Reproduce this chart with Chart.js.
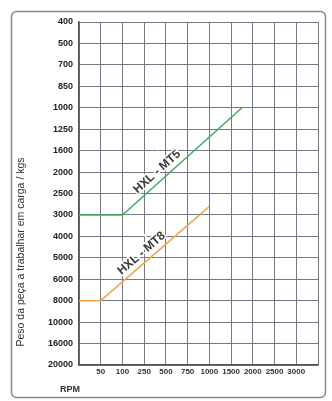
<!DOCTYPE html>
<html>
<head>
<meta charset="utf-8">
<script src="https://cdn.jsdelivr.net/npm/chart.js@4/dist/chart.umd.min.js"></script>
<style>
  html, body { margin: 0; padding: 0; background: #fff; }
  canvas { display: block; }
</style>
</head>
<body>
<canvas id="loadChart" width="332" height="401"></canvas>
<script>
// axis ticks
const rpmTicks = [0, 50, 100, 250, 500, 750, 1000, 1500, 2000, 2500, 3000];
const kgTicks = [400, 500, 700, 850, 1000, 1250, 1600, 2000, 2500, 3000, 4000, 5000, 6000, 8000, 10000, 16000, 20000];

// series
const mt5Rpm = [0, 100, 1750];
const mt5Kg = [3000, 3000, 1000];
const mt8Rpm = [0, 50, 1000];
const mt8Kg = [8000, 8000, 2800];

// the chart's axes are evenly spaced steps, not linear values:
// turn a value into its step position by interpolating between ticks
function stepPos(ticks, v) {
    for (let i = 0; i < ticks.length - 1; i++) {
        const a = ticks[i], b = ticks[i + 1];
        if (v >= a && v <= b) return i + (v - a) / (b - a);
    }
    return ticks.length - 1;
}

function toPoints(rpm, kg) {
    return rpm.map((r, i) => ({ x: stepPos(rpmTicks, r), y: stepPos(kgTicks, kg[i]) }));
}

const lineLabels = {
    id: 'lineLabels',
    beforeDraw(chart) {
        const ctx = chart.ctx;
        ctx.save();
        ctx.strokeStyle = '#8a8a8a';
        ctx.lineWidth = 1.5;
        ctx.beginPath();
        ctx.roundRect(11.5, 11.5, 314, 386, 5);
        ctx.stroke();
        ctx.restore();
    },
    afterDatasetsDraw(chart) {
        const ctx = chart.ctx;
        const xs = chart.scales.x, ys = chart.scales.y;
        const tags = [
            { ds: 0, text: 'HXL - MT5', t: 0.34 },
            { ds: 1, text: 'HXL - MT8', t: 0.43 }
        ];
        ctx.save();
        tags.forEach((tag) => {
            const pts = chart.data.datasets[tag.ds].data;
            const p1 = pts[1], p2 = pts[2];
            const x1 = xs.getPixelForValue(p1.x), y1 = ys.getPixelForValue(p1.y);
            const x2 = xs.getPixelForValue(p2.x), y2 = ys.getPixelForValue(p2.y);
            const ang = Math.atan2(y2 - y1, x2 - x1);
            const cx = x1 + (x2 - x1) * tag.t + Math.sin(ang) * 9;
            const cy = y1 + (y2 - y1) * tag.t - Math.cos(ang) * 9;
            ctx.translate(cx, cy);
            ctx.rotate(ang);
            ctx.font = 'bold 12px "Liberation Sans Narrow", sans-serif';
            ctx.textAlign = 'center';
            ctx.textBaseline = 'middle';
            ctx.lineWidth = 3;
            ctx.strokeStyle = '#fff';
            ctx.strokeText(tag.text, 0, 0);
            ctx.fillStyle = '#3a3a3a';
            ctx.fillText(tag.text, 0, 0);
            ctx.setTransform(1, 0, 0, 1, 0, 0);
        });

        // axis titles
        ctx.fillStyle = '#333';
        ctx.font = '10.5px "Liberation Sans", sans-serif';
        ctx.textAlign = 'center';
        ctx.textBaseline = 'middle';
        ctx.translate(21, 252);
        ctx.rotate(-Math.PI / 2);
        ctx.fillText('Peso da peça a trabalhar em carga / kgs', 0, 0);
        ctx.setTransform(1, 0, 0, 1, 0, 0);
        ctx.font = 'bold 9px "Liberation Sans Narrow", sans-serif';
        ctx.textAlign = 'left';
        ctx.fillText('RPM', 60, 390);
        ctx.restore();
    }
};

new Chart(document.getElementById('loadChart'), {
    type: 'line',
    data: {
        datasets: [
            {
                label: 'HXL - MT5',
                data: toPoints(mt5Rpm, mt5Kg),
                borderColor: '#3fae5a',
                borderWidth: 1.5,
                pointRadius: 0,
                tension: 0
            },
            {
                label: 'HXL - MT8',
                data: toPoints(mt8Rpm, mt8Kg),
                borderColor: '#f2a54a',
                borderWidth: 1.5,
                pointRadius: 0,
                tension: 0
            }
        ]
    },
    options: {
        responsive: false,
        animation: false,
        layout: { padding: { left: 0, right: 14, top: 22, bottom: 0 } },
        plugins: {
            legend: { display: false },
            tooltip: { enabled: false }
        },
        scales: {
            x: {
                type: 'linear',
                min: 0,
                max: rpmTicks.length,
                afterFit: (scale) => { scale.height = 36; },
                ticks: {
                    stepSize: 1,
                    autoSkip: false,
                    maxRotation: 0,
                    padding: 2,
                    color: '#333',
                    font: { family: '"Liberation Sans Narrow", sans-serif', size: 8, weight: 'bold' },
                    callback: (v) => (v >= 1 && v < rpmTicks.length ? String(rpmTicks[v]) : '')
                },
                grid: { color: '#737985', lineWidth: 1, drawTicks: false },
                border: { color: '#555', width: 1.5 }
            },
            y: {
                type: 'linear',
                reverse: true,
                min: 0,
                max: kgTicks.length - 1,
                afterFit: (scale) => { scale.width = 79; },
                ticks: {
                    stepSize: 1,
                    autoSkip: false,
                    padding: 6,
                    color: '#222',
                    font: { family: '"Liberation Sans Narrow", sans-serif', size: 9, weight: 'bold' },
                    callback: (v) => (kgTicks[v] !== undefined ? String(kgTicks[v]) : '')
                },
                grid: { color: '#737985', lineWidth: 1, drawTicks: false },
                border: { color: '#555', width: 1.5 }
            }
        }
    },
    plugins: [lineLabels]
});
</script>
</body>
</html>
